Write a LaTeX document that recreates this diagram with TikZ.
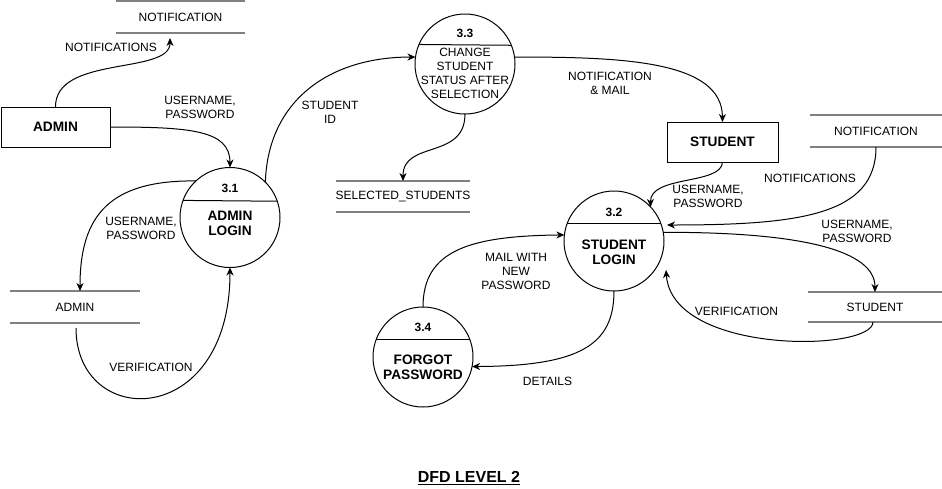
\documentclass[tikz,border=0pt]{standalone}
\usepackage{fontspec}
\setmainfont{Liberation Sans}
\usetikzlibrary{arrows.meta}
\definecolor{storegray}{HTML}{808080}
\begin{document}
\begin{tikzpicture}[x=1pt,y=-1pt,
  every node/.style={inner sep=0pt, outer sep=0pt},
  lbl/.style={font=\fontsize{12}{14}\selectfont, align=center},
  ext/.style={draw, line width=1pt, font=\bfseries\fontsize{13.7}{15}\selectfont},
  proc/.style={draw, circle, line width=1pt, minimum size=100pt},
  pnum/.style={font=\bfseries\fontsize{12}{14}\selectfont},
  pname/.style={font=\bfseries\fontsize{13.7}{15}\selectfont, align=center},
  store/.style={font=\fontsize{12}{14}\selectfont},
  storeline/.style={line width=2pt, draw=storegray},
  flow/.style={line width=1pt, -{Stealth[length=8pt,width=7pt,inset=2.5pt]}}
]
\useasboundingbox (0,0) rectangle (942,488);

% external entities
\node[ext, minimum width=109, minimum height=40] (admin) at (55.5,127) {ADMIN};
\node[ext, minimum width=111, minimum height=40] (stud) at (722.5,142) {STUDENT};

% data stores
\node[store, minimum width=129, minimum height=32] (ntop) at (180.5,17) {NOTIFICATION};
\node[store, minimum width=130, minimum height=31] (sel) at (403,196.5) {SELECTED\_STUDENTS};
\node[store, minimum width=132, minimum height=32] (nright) at (876,131) {NOTIFICATION};
\node[store, minimum width=134, minimum height=30] (sstore) at (875,307) {STUDENT};
\node[store, minimum width=130, minimum height=32] (astore) at (75,307) {ADMIN};
\foreach \s in {ntop,sel,nright,sstore,astore}{
  \draw[storeline] (\s.north west) -- (\s.north east);
  \draw[storeline] (\s.south west) -- (\s.south east);
}

% processes
\node[proc] (p31) at (230,217.5) {};
\draw[line width=1pt] (p31.160.7) -- (p31.19.3);
\node[pnum] (n31) at (230,188) {3.1};
\node[pname] (t31) at (230,223) {ADMIN\\LOGIN};

\node[proc] (p33) at (465,64) {};
\draw[line width=1pt] (p33.157.7) -- (p33.22.3);
\node[pnum] (n33) at (465,33) {3.3};
\node[lbl] (t33) at (465,73) {CHANGE\\STUDENT\\STATUS AFTER\\SELECTION};

\node[proc] (p32) at (614,241) {};
\draw[line width=1pt] (p32.160) -- (p32.20);
\node[pnum] (n32) at (614,212) {3.2};
\node[pname] (t32) at (614,252.5) {STUDENT\\LOGIN};

\node[proc] (p34) at (423,357) {};
\draw[line width=1pt] (p34.159) -- (p34.21);
\node[pnum] (n34) at (423,327) {3.4};
\node[pname] (t34) at (423,367.5) {FORGOT\\PASSWORD};

% free ends
\coordinate (ntopin) at (170,38);
\coordinate (p32n) at (667,225);
\coordinate (p32v) at (666,270);

% flows
\draw[flow] (admin.north) .. controls (55,55) and (170,75) .. (ntopin);
\draw[flow] (admin.east) .. controls (190,127) and (230,130) .. (p31.north);
\draw[flow] (p31.133) .. controls (110,180) and (80,215) .. ([xshift=5pt]astore.north);
\draw[flow] ([xshift=1pt,yshift=-5pt]astore.south) .. controls (76,430) and (230,430) .. (p31.south);
\draw[flow] (p31.45) .. controls (268,100) and (330,57) .. (p33.172);
\draw[flow] (p33.south) .. controls (465,160) and (403,140) .. (sel.north);
\draw[flow] (p33.8) .. controls (620,57) and (722,60) .. (stud.north);
\draw[flow] (stud.south) .. controls (722,185) and (650,175) .. (p32.43);
\draw[flow] (nright.south) .. controls (876,215) and (800,225) .. (p32n);
\draw[flow] (p32.10) .. controls (800,232) and (875,250) .. (sstore.north);
\draw[flow] ([xshift=-2pt]sstore.south) .. controls (873,352) and (672,355) .. (p32v);
\draw[flow] (p32.south) .. controls (614,345) and (580,366) .. (p34.-11);
\draw[flow] (p34.north) .. controls (423,250) and (470,236) .. (p32.173);

% labels
\node[lbl] (l1) at (111,47) {NOTIFICATIONS};
\node[lbl] (l2) at (200,107.5) {USERNAME,\\PASSWORD};
\node[lbl] (l3) at (141,228) {USERNAME,\\PASSWORD};
\node[lbl] (l4) at (151,367) {VERIFICATION};
\node[lbl] (l5) at (330,112.5) {STUDENT\\ID};
\node[lbl] (l6) at (610,83) {NOTIFICATION\\\& MAIL};
\node[lbl] (l7) at (708,196.5) {USERNAME,\\PASSWORD};
\node[lbl] (l8) at (810,178) {NOTIFICATIONS};
\node[lbl] (l9) at (857,231.5) {USERNAME,\\PASSWORD};
\node[lbl] (l10) at (736.5,311.5) {VERIFICATION};
\node[lbl] (l11) at (516,271) {MAIL WITH\\NEW\\PASSWORD};
\node[lbl] (l12) at (547.5,381.5) {DETAILS};

\node[font=\bfseries\fontsize{16}{18}\selectfont] (title) at (469,478) {\underline{DFD LEVEL 2}};
\end{tikzpicture}
\end{document}
